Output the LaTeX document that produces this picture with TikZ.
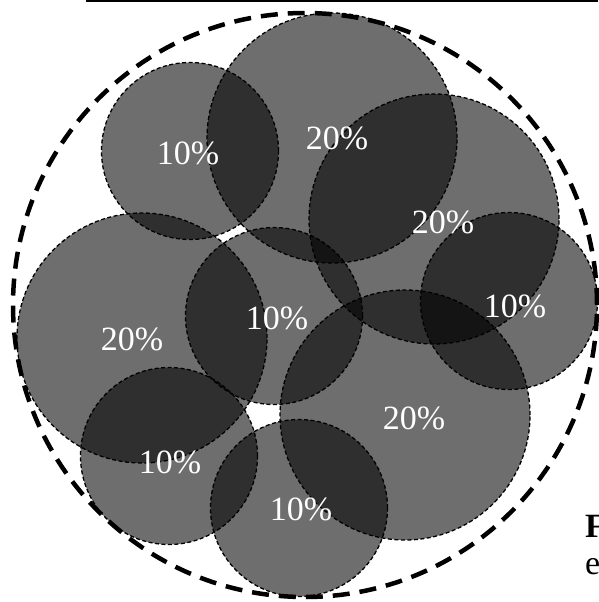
\documentclass[tikz,border=0pt]{standalone}
\usepackage{fontspec}
\setmainfont{Liberation Serif}
\begin{document}
\begin{tikzpicture}[x=1pt,y=-1pt,
  zone/.style={circle, inner sep=0pt, fill=black, fill opacity=0.57, draw=black, line width=1.3pt, dash pattern=on 4pt off 2.5pt},
  small/.style={zone, minimum size=177pt},
  big/.style={zone, minimum size=250pt},
  pct/.style={text=white, font=\fontsize{34}{40}\selectfont, inner sep=0pt},
  captxt/.style={text=black, font=\fontsize{34}{40}\selectfont, inner sep=0pt, anchor=base west}]
\useasboundingbox (0,0) rectangle (598,602);
\draw[line width=1.6pt] (86,0.8) coordinate (la) -- (598,0.8) coordinate (lb);
\node[circle, inner sep=0pt, minimum size=584pt, draw=black, line width=4.5pt, dash pattern=on 17pt off 10pt] (outer) at (305,305) {};
\node[small] (c1) at (190,151) {};
\node[big]   (c2) at (332,138) {};
\node[big]   (c3) at (434,219) {};
\node[small] (c4) at (509,301) {};
\node[big]   (c5) at (142,338) {};
\node[small] (c6) at (274,316) {};
\node[big]   (c7) at (405,415) {};
\node[small] (c8) at (169,456) {};
\node[small] (c9) at (299,508) {};
\node[pct] (t1) at (188,153) {10\%};
\node[pct] (t2) at (337,138) {20\%};
\node[pct] (t3) at (443,222) {20\%};
\node[pct] (t4) at (515,306) {10\%};
\node[pct] (t5) at (132,339) {20\%};
\node[pct] (t6) at (277,318) {10\%};
\node[pct] (t7) at (414,418) {20\%};
\node[pct] (t8) at (170,462) {10\%};
\node[pct] (t9) at (301,509) {10\%};
\node[captxt] (f) at (585,537) {\textbf{F}};
\node[captxt] (e) at (585,574) {e};
\end{tikzpicture}
\end{document}
